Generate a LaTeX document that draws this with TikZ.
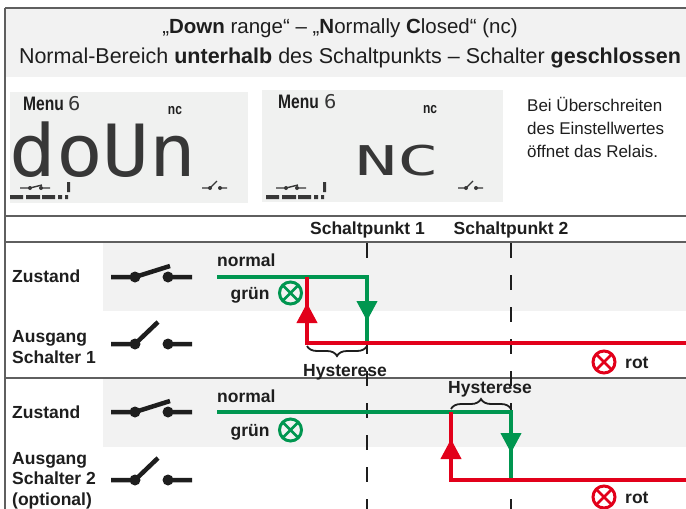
\documentclass[tikz,border=0pt]{standalone}
\usepackage{fontspec}
\setmainfont{Liberation Sans}
\newfontfamily\condfont[FakeStretch=0.8]{Liberation Sans}
\newfontfamily\lcdfont[FakeStretch=1.08]{DejaVu Sans Mono}
\newfontfamily\lcdwide[FakeStretch=1.7]{DejaVu Sans Mono}
\usetikzlibrary{arrows.meta,decorations.pathreplacing}
\definecolor{grn}{RGB}{0,150,80}
\definecolor{rd}{RGB}{226,0,26}
\definecolor{bandgray}{RGB}{242,242,242}
\definecolor{lcdgray}{RGB}{240,241,240}
\definecolor{rulegray}{RGB}{95,95,95}
\definecolor{ink}{RGB}{30,30,30}
\definecolor{lcdink}{RGB}{55,55,55}

\begin{document}
\begin{tikzpicture}[x=1pt,y=-1pt,
    tabrule/.style={draw=rulegray,line width=1.2pt},
    lbl/.style={font=\fontsize{17.5}{20.5}\selectfont\bfseries,text=ink,inner sep=0pt},
    notetxt/.style={font=\fontsize{17}{23}\selectfont,text=ink,inner sep=0pt},
    lcdlbl/.style={font=\condfont\bfseries\fontsize{19.5}{20}\selectfont,text=ink,anchor=base west,inner sep=0pt},
    lcdnc/.style={font=\condfont\bfseries\fontsize{15}{15}\selectfont,text=ink,anchor=base,inner sep=0pt},
    sig/.style={line width=4pt},
    arrowhd/.style={-{Triangle[length=20pt,width=20pt]}},
    spdash/.style={line width=2.8pt,ink,dash pattern=on 15pt off 17pt},
    contact/.style={line width=4.5pt,ink},
    hyst/.style={decorate,decoration={brace,amplitude=10pt},line width=1.8pt,ink},
    lamp/.style={circle,draw,line width=3pt,minimum size=22pt,inner sep=0pt,
      path picture={\draw[line width=2.8pt]
        ([shift={(4pt,-4pt)}]path picture bounding box.north west) --
        ([shift={(-4pt,4pt)}]path picture bounding box.south east)
        ([shift={(-4pt,-4pt)}]path picture bounding box.north east) --
        ([shift={(4pt,4pt)}]path picture bounding box.south west);}}]

\useasboundingbox (0,0) rectangle (686,509);

% header
\fill[bandgray] (5,8) rectangle (686,77);
\node[font=\fontsize{20.5}{25}\selectfont,text=ink,anchor=base,inner sep=0pt] (title1) at (340,33)
  {„\textbf{Down} range“ – „\textbf{N}ormally \textbf{C}losed“ (nc)};
\node[font=\fontsize{21.5}{25}\selectfont,text=ink,anchor=base,inner sep=0pt] (title2) at (350,63)
  {Normal-Bereich \textbf{unterhalb} des Schaltpunkts – Schalter \textbf{geschlossen}};

% displays
\fill[lcdgray] (10,92) rectangle (248,203);
\fill[lcdgray] (262,90) rectangle (503,202);
\foreach \dx in {0,256}{
  \begin{scope}[xshift=\dx]
    \fill[lcdink] (10,195) rectangle (23,199) (26,195) rectangle (40,199)
      (42,195) rectangle (55,199) (58,195) rectangle (62,199)
      (65,195) rectangle (68,199) (67,182) rectangle (70,192);
    \draw[lcdink,line width=1.4pt] (20,188) -- (30,188) -- (42,185) (41,188) -- (50,188);
    \fill[lcdink] (30,188) circle[radius=2pt] (41,188) circle[radius=2pt];
    \draw[lcdink,line width=1.4pt] (202,188) -- (210,188) -- (217,181) (220,188) -- (227,188);
    \fill[lcdink] (210,188) circle[radius=2pt] (220,188) circle[radius=2pt];
  \end{scope}
}
\node[lcdlbl] (menu1) at (23,110) {Menu};
\node[font=\lcdfont\fontsize{19}{19}\selectfont,text=lcdink,anchor=base west,inner sep=0pt] (six1) at (68,110) {6};
\node[lcdnc] (nc1) at (175,114) {nc};
\node[font=\lcdfont\fontsize{72}{72}\selectfont,text=lcdink,anchor=base west,inner sep=0pt] (disp1) at (9,176) {doUn};
\node[lcdlbl] (menu2) at (278,108) {Menu};
\node[font=\lcdfont\fontsize{19}{19}\selectfont,text=lcdink,anchor=base west,inner sep=0pt] (six2) at (324,108) {6};
\node[lcdnc] (nc2) at (430,113) {nc};
\node[font=\lcdwide\fontsize{41}{41}\selectfont,text=lcdink,anchor=base west,inner sep=0pt] (disp2) at (355,175) {NC};
\node[notetxt,anchor=north west,align=left] (note) at (527,97.5)
  {Bei Überschreiten\\des Einstellwertes\\öffnet das Relais.};

% table
\fill[bandgray] (103,243) rectangle (686,311);
\fill[bandgray] (103,379) rectangle (686,447);
\draw[tabrule] (5,8) -- (686,8);
\draw[tabrule] (5,8) -- (5,509);
\draw[tabrule] (5,216) -- (686,216);
\draw[tabrule] (5,242) -- (686,242);
\draw[tabrule] (5,378) -- (686,378);

\node[lbl,anchor=base] (sp1lbl) at (367.5,234) {Schaltpunkt 1};
\node[lbl,anchor=base] (sp2lbl) at (511,234) {Schaltpunkt 2};
\coordinate (sp1) at (367,243);
\coordinate (sp2) at (511,243);
\draw[spdash] (sp1) -- ++(0,266);
\draw[spdash] (sp2) -- ++(0,266);

% switch symbols
\foreach \y in {277,412}{
  \draw[contact] (111,\y) -- (135,\y) -- (170,\y-11) (168,\y) -- (192,\y);
  \fill[ink] (135,\y) circle[radius=5.5pt] (168,\y) circle[radius=5.5pt];
}
\foreach \y in {344,480}{
  \draw[contact] (111,\y) -- (135,\y) -- (158,\y-22) (168,\y) -- (192,\y);
  \fill[ink] (135,\y) circle[radius=5.5pt] (168,\y) circle[radius=5.5pt];
}

% switch 1
\node[lbl,anchor=base west] (zust1) at (12,282) {Zustand};
\node[lbl,anchor=north west,align=left] (aus1) at (12,330.5) {Ausgang\\Schalter 1};
\coordinate (n1) at (217,277);
\coordinate (g1) at (367,343);
\coordinate (r1) at (307,277);
\coordinate (e1) at (686,343);
\draw[sig,grn] (n1) -| (g1);
\draw[sig,rd] (r1) |- (e1);
\draw[sig,grn,arrowhd] (g1) ++(0,-46) -- ++(0,24);
\draw[sig,rd,arrowhd] (r1) ++(0,46) -- ++(0,-20);
\draw[hyst] ([yshift=-3pt]g1) -- ([yshift=-3pt]g1 -| r1);
\node[lbl,anchor=base] (hys1) at (345,376) {Hysterese};
\node[lbl,anchor=base west] (norm1) at (217,266) {normal};
\node[lbl,anchor=base] (gruen1) at (250,299) {grün};
\node[lamp,grn] (lampg1) at (290.5,293) {};
\node[lbl,anchor=base west] (rot1) at (625,368) {rot};
\node[lamp,rd] (lampr1) at (604,362) {};

% switch 2
\node[lbl,anchor=base west] (zust2) at (12,418) {Zustand};
\node[lbl,anchor=north west,align=left] (aus2) at (12,452) {Ausgang\\Schalter 2\\(optional)};
\coordinate (n2) at (217,412);
\coordinate (g2) at (511,480);
\coordinate (r2) at (451,412);
\coordinate (e2) at (686,480);
\draw[sig,grn] (n2) -| (g2);
\draw[sig,rd] (r2) |- (e2);
\draw[sig,grn,arrowhd] (g2) ++(0,-48) -- ++(0,21);
\draw[sig,rd,arrowhd] (r2) ++(0,48) -- ++(0,-21);
\draw[hyst] ([yshift=3pt]r2) -- ([yshift=3pt]r2 -| g2);
\node[lbl,anchor=base] (hys2) at (490,393) {Hysterese};
\node[lbl,anchor=base west] (norm2) at (217,402) {normal};
\node[lbl,anchor=base] (gruen2) at (250,436) {grün};
\node[lamp,grn] (lampg2) at (290.5,430) {};
\node[lbl,anchor=base west] (rot2) at (625,503) {rot};
\node[lamp,rd] (lampr2) at (604,497) {};
\end{tikzpicture}
\end{document}
